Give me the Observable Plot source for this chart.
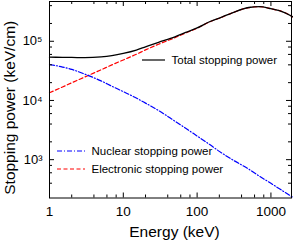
<!DOCTYPE html>
<html>
<head>
<meta charset="utf-8">
<script src="https://cdn.jsdelivr.net/npm/d3@7"></script>
<script src="https://cdn.jsdelivr.net/npm/@observablehq/plot@0.6"></script>
<style>
  html, body { margin: 0; padding: 0; background: #fff; }
  #chart svg { display: block; }
</style>
</head>
<body>
<div id="chart"></div>
<script>
// Energy grid (keV)
const energy = [1, 1.5, 2, 3, 5, 7, 10, 15, 20, 30, 50, 70, 100, 150, 200, 300, 500, 700, 1000, 1500, 2000];
// Stopping powers (keV/cm)
const totalSP = [53900, 53600, 53400, 52800, 54400, 57300, 62500, 71200, 80600, 95900, 119000, 141000, 168000, 216000, 247000, 303000, 372000, 385000, 355000, 309000, 257000];
const electronicSP = [13500, 16900, 19900, 24900, 33000, 39900, 48400, 60300, 71600, 89100, 115000, 138000, 166000, 214000, 245000, 302000, 371000, 385000, 355000, 309000, 257000];
const nuclearSP = [40500, 36700, 33500, 27900, 21400, 17400, 14100, 11000, 9020, 6760, 4470, 3390, 2510, 1780, 1380, 1000, 692, 525, 398, 288, 229];

// Ticks
const xMajor = [1, 10, 100, 1000];
const xMinor = [2, 4, 6, 8, 20, 40, 60, 80, 200, 400, 600, 800];
const yMajor = [1e3, 1e4, 1e5];
const yMinor = [400, 600, 800, 2000, 4000, 6000, 8000, 2e4, 4e4, 6e4, 8e4, 2e5, 4e5];

// Text
const xTitle = "Energy (keV)";
const yTitle = "Stopping power (keV/cm)";
const legendLabels = ["Total stopping power", "Nuclear stopping power", "Electronic stopping power"];

const FONT = "'Liberation Sans', Arial, Helvetica, sans-serif";
const W = 293, H = 240, ML = 49, MR = 2, MT = 1, MB = 42.5;
const FW = W - ML - MR, FH = H - MT - MB;
const rows = vals => energy.map((e, i) => ({e, v: vals[i]}));
const supDigits = {"0":"⁰","1":"¹","2":"²","3":"³","4":"⁴","5":"⁵","6":"⁶","7":"⁷","8":"⁸","9":"⁹"};
const yFmt = d => "10" + String(Math.round(Math.log10(d))).split("").map(c => supDigits[c]).join("");

function legend() {
  const g = d3.create("svg:g").attr("font-family", FONT).attr("font-size", 11.5)
    .attr("fill", "#000").attr("text-anchor", "start");
  const items = [
    {label: legendLabels[0], x1: 142, x2: 165, y: 60, stroke: "#000", dash: null},
    {label: legendLabels[1], x1: 57, x2: 85, y: 151, stroke: "#0000ff", dash: "5,2,1,2"},
    {label: legendLabels[2], x1: 57, x2: 85, y: 169, stroke: "#ff0000", dash: "4,2.5"}
  ];
  for (const it of items) {
    g.append("line").attr("x1", it.x1).attr("x2", it.x2).attr("y1", it.y).attr("y2", it.y)
      .attr("stroke", it.stroke).attr("stroke-width", 1.2).attr("stroke-dasharray", it.dash);
    g.append("text").attr("x", it.x2 + 6.5).attr("y", it.y).attr("dy", "0.35em").text(it.label);
  }
  return g.node();
}

// inward tick marks on all four sides
const tickMarks = [];
for (const [vals, len] of [[xMajor, 5], [xMinor, 3]]) {
  tickMarks.push(Plot.ruleX(vals, {x: d => d, insetTop: FH - len, stroke: "#000", strokeWidth: 1}));
  tickMarks.push(Plot.ruleX(vals, {x: d => d, insetBottom: FH - len, stroke: "#000", strokeWidth: 1}));
}
for (const [vals, len] of [[yMajor, 5], [yMinor, 3]]) {
  tickMarks.push(Plot.ruleY(vals, {y: d => d, insetRight: FW - len, stroke: "#000", strokeWidth: 1}));
  tickMarks.push(Plot.ruleY(vals, {y: d => d, insetLeft: FW - len, stroke: "#000", strokeWidth: 1}));
}

const chart = Plot.plot({
  width: W,
  height: H,
  marginLeft: ML,
  marginRight: MR,
  marginTop: MT,
  marginBottom: MB,
  style: {fontFamily: FONT, background: "#fff", color: "#000", overflow: "visible"},
  x: {type: "log", domain: [1, 1900], label: null},
  y: {type: "log", domain: [225, 4.7e5], label: null},
  marks: [
    Plot.line(rows(electronicSP), {x: "e", y: "v", stroke: "#ff0000", strokeWidth: 1.2, strokeDasharray: "4,2.5", curve: "monotone-x"}),
    Plot.line(rows(nuclearSP), {x: "e", y: "v", stroke: "#0000ff", strokeWidth: 1.2, strokeDasharray: "5,2,1,2", curve: "monotone-x"}),
    Plot.line(rows(totalSP), {x: "e", y: "v", stroke: "#000", strokeWidth: 1.3, curve: "monotone-x"}),
    ...tickMarks,
    Plot.frame({stroke: "#000", strokeWidth: 1}),
    Plot.axisX({ticks: xMajor, tickSize: 0, tickPadding: 8.5, tickFormat: d => String(d), fontSize: 13.5, label: null}),
    Plot.axisY({ticks: yMajor, tickSize: 0, tickPadding: 7, tickFormat: yFmt, fontSize: 13, label: null}),
    Plot.text([xTitle], {text: d => d, frameAnchor: "bottom", dy: 34, dx: 4, fontSize: 15.5, lineAnchor: "middle", fill: "#000"}),
    Plot.text([yTitle], {text: d => d, frameAnchor: "left", textAnchor: "middle", rotate: -90, dx: -39, dy: 8, fontSize: 15.5, lineAnchor: "middle", fill: "#000"}),
    legend
  ]
});
document.getElementById("chart").appendChild(chart);
</script>
</body>
</html>
